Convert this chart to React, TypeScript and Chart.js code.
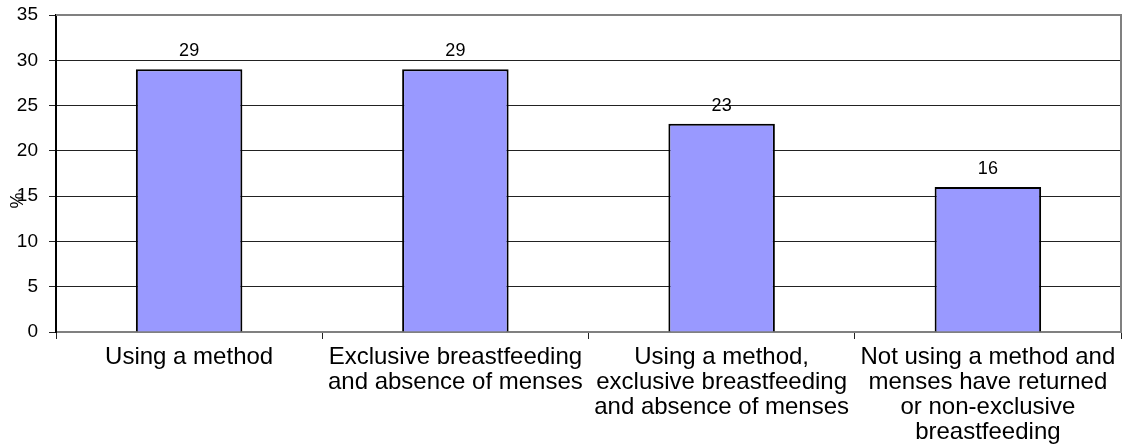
import React, { useEffect, useRef } from "react";
import { Chart, registerables } from "chart.js";

Chart.register(...registerables);

const categories: string[][] = [
  ["Using a method"],
  ["Exclusive breastfeeding", "and absence of menses"],
  ["Using a method,", "exclusive breastfeeding", "and absence of menses"],
  ["Not using a method and", "menses have returned", "or non-exclusive", "breastfeeding"],
];
const values: number[] = [29, 29, 23, 16];
const yTitle = "%";

const FONT = "'Liberation Sans', Arial, sans-serif";

const valueLabels = {
  id: "valueLabels",
  afterDatasetsDraw(chart: any) {
    const ctx = chart.ctx;
    const meta = chart.getDatasetMeta(0);
    ctx.save();
    ctx.font = `18px ${FONT}`;
    ctx.fillStyle = "#000";
    ctx.textAlign = "center";
    ctx.textBaseline = "bottom";
    meta.data.forEach((bar: any, i: number) => {
      ctx.fillText(String(values[i]), bar.x, bar.y - 9);
    });
    ctx.restore();
  },
};

const frame = {
  id: "frame",
  beforeDatasetsDraw(chart: any) {
    const { ctx, chartArea } = chart;
    ctx.save();
    ctx.strokeStyle = "#808080";
    ctx.lineWidth = 2;
    ctx.beginPath();
    ctx.moveTo(chartArea.left, chartArea.top);
    ctx.lineTo(chartArea.right, chartArea.top);
    ctx.lineTo(chartArea.right, chartArea.bottom);
    ctx.stroke();
    ctx.restore();
  },
  afterDraw(chart: any) {
    const { ctx, chartArea } = chart;
    ctx.save();
    ctx.font = `18px ${FONT}`;
    ctx.fillStyle = "#000";
    ctx.textAlign = "center";
    ctx.textBaseline = "middle";
    ctx.translate(18, (chartArea.top + chartArea.bottom) / 2 + 27);
    ctx.rotate(-Math.PI / 2);
    ctx.fillText(yTitle, 0, 0);
    ctx.restore();
  },
};

export default function App() {
  const ref = useRef<HTMLCanvasElement>(null);
  useEffect(() => {
    const chart = new Chart(ref.current!, {
      type: "bar",
      data: {
        labels: categories,
        datasets: [
          {
            data: values,
            backgroundColor: "#9999FF",
            borderColor: "#000",
            borderWidth: 2,
            barPercentage: 0.4,
            categoryPercentage: 1,
          },
        ],
      },
      options: {
        animation: false,
        responsive: false,
        maintainAspectRatio: false,
        layout: { padding: { left: 0, right: 4, top: 15, bottom: 0 } },
        plugins: { legend: { display: false }, tooltip: { enabled: false } },
        scales: {
          x: {
            offset: true,
            grid: {
              offset: true,
              drawOnChartArea: false,
              drawTicks: true,
              tickLength: 7,
              color: "#222",
            },
            border: { color: "#808080", width: 2 },
            ticks: {
              color: "#000",
              font: { family: FONT, size: 24, lineHeight: "25px" as any },
              maxRotation: 0,
              autoSkip: false,
              padding: 6,
            },
            afterFit: (s: any) => {
              s.height = 116;
            },
          },
          y: {
            min: 0,
            max: 35,
            ticks: {
              stepSize: 5,
              color: "#000",
              font: { family: FONT, size: 19 },
              padding: 11,
            },
            grid: { color: "#222", tickLength: 7 },
            border: { color: "#000", width: 2 },
            afterFit: (s: any) => {
              s.width = 56;
              s.paddingTop = 0;
              s.paddingBottom = 0;
            },
          },
        },
      },
      plugins: [frame, valueLabels],
    });
    return () => chart.destroy();
  }, []);
  return (
    <div style={{ position: "absolute", left: 0, top: 0, width: 1125, height: 448, background: "#fff" }}>
      <canvas ref={ref} width={1125} height={448} />
    </div>
  );
}
